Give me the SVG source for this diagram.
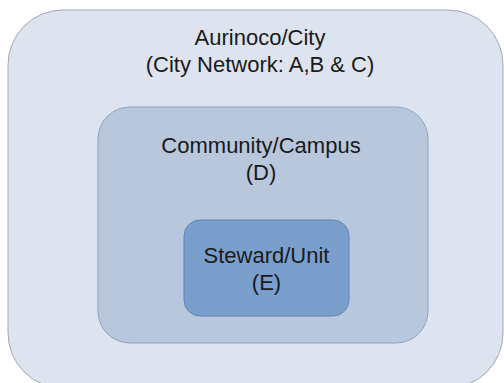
<svg xmlns="http://www.w3.org/2000/svg" width="504" height="383" viewBox="0 0 504 383">
<style>
text{font-family:"Liberation Sans",Arial,sans-serif;font-size:22px;fill:#1a1a1a;text-anchor:middle}
</style>
<rect width="504" height="383" fill="#ffffff"/>
<g id="city">
<rect x="8" y="10" width="495" height="378" rx="55" ry="55" fill="#dde4ef" stroke="#a0a8b4" stroke-width="1"/>
<text x="260" y="45">Aurinoco/City</text>
<text x="260" y="72">(City Network: A,B &amp; C)</text>
</g>
<g id="campus">
<rect x="98" y="107" width="330" height="236" rx="32" ry="32" fill="#b8c7dc" stroke="#8da2c2" stroke-width="1"/>
<text x="261" y="153">Community/Campus</text>
<text x="261" y="180">(D)</text>
</g>
<g id="unit">
<rect x="184" y="220" width="165" height="96" rx="16" ry="16" fill="#7a9fcc" stroke="#5f84b6" stroke-width="1"/>
<text x="266.5" y="263">Steward/Unit</text>
<text x="266.5" y="290">(E)</text>
</g>
<g id="connectors"></g>
</svg>
